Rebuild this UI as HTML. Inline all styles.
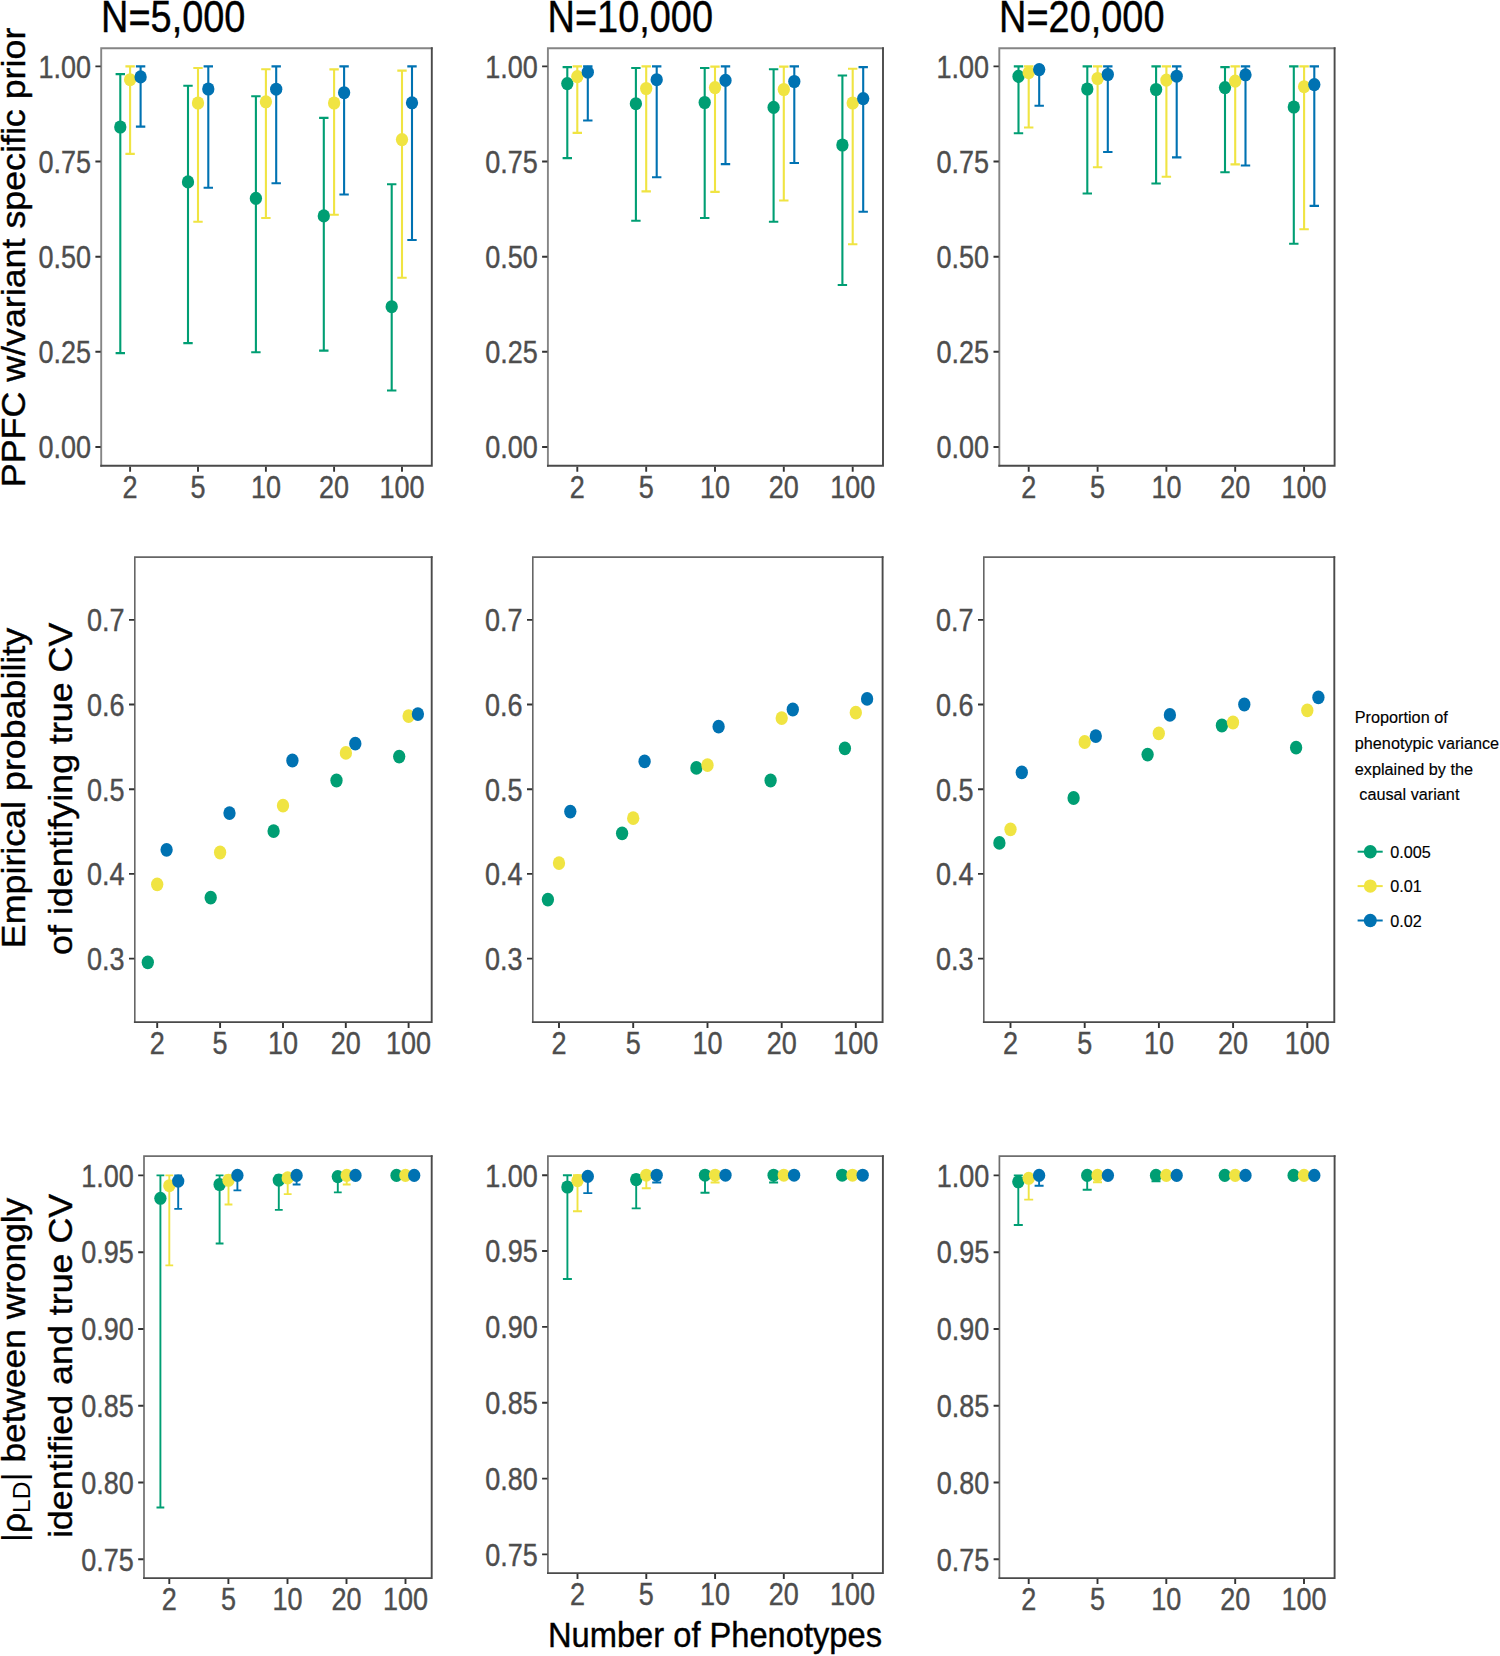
<!DOCTYPE html><html><head><meta charset="utf-8"><title>Figure</title>
<style>html,body{margin:0;padding:0;background:#fff}svg{display:block}text{font-family:"Liberation Sans",sans-serif}</style></head><body>
<svg width="1500" height="1656" viewBox="0 0 1500 1656">
<rect width="1500" height="1656" fill="#fff"/>
<path d="M115.6 74.1H125.0M120.3 74.1V353.1M115.6 353.1H125.0" stroke="#009E73" stroke-width="2.1" fill="none"/>
<path d="M125.4 66.4H134.8M130.1 66.4V153.9M125.4 153.9H134.8" stroke="#F0E442" stroke-width="2.1" fill="none"/>
<path d="M135.9 66.4H145.3M140.6 66.4V126.6M135.9 126.6H145.3" stroke="#0072B2" stroke-width="2.1" fill="none"/>
<path d="M183.3 85.7H192.7M188.0 85.7V343.1M183.3 343.1H192.7" stroke="#009E73" stroke-width="2.1" fill="none"/>
<path d="M193.3 68.0H202.7M198.0 68.0V221.8M193.3 221.8H202.7" stroke="#F0E442" stroke-width="2.1" fill="none"/>
<path d="M203.6 66.4H213.0M208.3 66.4V187.7M203.6 187.7H213.0" stroke="#0072B2" stroke-width="2.1" fill="none"/>
<path d="M251.2 96.2H260.6M255.9 96.2V352.2M251.2 352.2H260.6" stroke="#009E73" stroke-width="2.1" fill="none"/>
<path d="M261.2 69.2H270.6M265.9 69.2V218.0M261.2 218.0H270.6" stroke="#F0E442" stroke-width="2.1" fill="none"/>
<path d="M271.5 66.4H280.9M276.2 66.4V183.3M271.5 183.3H280.9" stroke="#0072B2" stroke-width="2.1" fill="none"/>
<path d="M319.1 117.9H328.5M323.8 117.9V350.6M319.1 350.6H328.5" stroke="#009E73" stroke-width="2.1" fill="none"/>
<path d="M329.4 69.4H338.8M334.1 69.4V214.8M329.4 214.8H338.8" stroke="#F0E442" stroke-width="2.1" fill="none"/>
<path d="M339.4 66.4H348.8M344.1 66.4V194.5M339.4 194.5H348.8" stroke="#0072B2" stroke-width="2.1" fill="none"/>
<path d="M387.0 184.2H396.4M391.7 184.2V390.5M387.0 390.5H396.4" stroke="#009E73" stroke-width="2.1" fill="none"/>
<path d="M397.3 70.6H406.7M402.0 70.6V277.8M397.3 277.8H406.7" stroke="#F0E442" stroke-width="2.1" fill="none"/>
<path d="M407.3 66.4H416.7M412.0 66.4V240.0M407.3 240.0H416.7" stroke="#0072B2" stroke-width="2.1" fill="none"/>
<ellipse cx="120.3" cy="127.0" rx="6.15" ry="6.55" fill="#009E73"/>
<ellipse cx="130.1" cy="79.7" rx="6.15" ry="6.55" fill="#F0E442"/>
<ellipse cx="140.6" cy="76.9" rx="6.15" ry="6.55" fill="#0072B2"/>
<ellipse cx="188.0" cy="181.9" rx="6.15" ry="6.55" fill="#009E73"/>
<ellipse cx="198.0" cy="103.0" rx="6.15" ry="6.55" fill="#F0E442"/>
<ellipse cx="208.3" cy="89.0" rx="6.15" ry="6.55" fill="#0072B2"/>
<ellipse cx="255.9" cy="198.4" rx="6.15" ry="6.55" fill="#009E73"/>
<ellipse cx="265.9" cy="101.8" rx="6.15" ry="6.55" fill="#F0E442"/>
<ellipse cx="276.2" cy="89.2" rx="6.15" ry="6.55" fill="#0072B2"/>
<ellipse cx="323.8" cy="215.9" rx="6.15" ry="6.55" fill="#009E73"/>
<ellipse cx="334.1" cy="103.0" rx="6.15" ry="6.55" fill="#F0E442"/>
<ellipse cx="344.1" cy="92.7" rx="6.15" ry="6.55" fill="#0072B2"/>
<ellipse cx="391.7" cy="306.7" rx="6.15" ry="6.55" fill="#009E73"/>
<ellipse cx="402.0" cy="139.6" rx="6.15" ry="6.55" fill="#F0E442"/>
<ellipse cx="412.0" cy="102.8" rx="6.15" ry="6.55" fill="#0072B2"/>
<path d="M562.6 67.1H572.0M567.3 67.1V158.1M562.6 158.1H572.0" stroke="#009E73" stroke-width="2.1" fill="none"/>
<path d="M572.6 66.4H582.0M577.3 66.4V132.9M572.6 132.9H582.0" stroke="#F0E442" stroke-width="2.1" fill="none"/>
<path d="M583.1 66.4H592.5M587.8 66.4V120.5M583.1 120.5H592.5" stroke="#0072B2" stroke-width="2.1" fill="none"/>
<path d="M631.2 68.0H640.6M635.9 68.0V220.8M631.2 220.8H640.6" stroke="#009E73" stroke-width="2.1" fill="none"/>
<path d="M641.5 66.4H650.9M646.2 66.4V191.4M641.5 191.4H650.9" stroke="#F0E442" stroke-width="2.1" fill="none"/>
<path d="M652.0 66.4H661.4M656.7 66.4V177.2M652.0 177.2H661.4" stroke="#0072B2" stroke-width="2.1" fill="none"/>
<path d="M700.0 68.0H709.4M704.7 68.0V218.0M700.0 218.0H709.4" stroke="#009E73" stroke-width="2.1" fill="none"/>
<path d="M710.3 66.6H719.7M715.0 66.6V191.9M710.3 191.9H719.7" stroke="#F0E442" stroke-width="2.1" fill="none"/>
<path d="M720.8 66.4H730.2M725.5 66.4V164.1M720.8 164.1H730.2" stroke="#0072B2" stroke-width="2.1" fill="none"/>
<path d="M768.9 69.2H778.3M773.6 69.2V221.8M768.9 221.8H778.3" stroke="#009E73" stroke-width="2.1" fill="none"/>
<path d="M779.1 66.6H788.5M783.8 66.6V200.5M779.1 200.5H788.5" stroke="#F0E442" stroke-width="2.1" fill="none"/>
<path d="M789.6 66.4H799.0M794.3 66.4V163.0M789.6 163.0H799.0" stroke="#0072B2" stroke-width="2.1" fill="none"/>
<path d="M837.7 75.5H847.1M842.4 75.5V285.0M837.7 285.0H847.1" stroke="#009E73" stroke-width="2.1" fill="none"/>
<path d="M848.0 68.7H857.4M852.7 68.7V244.2M848.0 244.2H857.4" stroke="#F0E442" stroke-width="2.1" fill="none"/>
<path d="M858.5 67.1H867.9M863.2 67.1V211.7M858.5 211.7H867.9" stroke="#0072B2" stroke-width="2.1" fill="none"/>
<ellipse cx="567.3" cy="83.6" rx="6.15" ry="6.55" fill="#009E73"/>
<ellipse cx="577.3" cy="76.6" rx="6.15" ry="6.55" fill="#F0E442"/>
<ellipse cx="587.8" cy="72.2" rx="6.15" ry="6.55" fill="#0072B2"/>
<ellipse cx="635.9" cy="103.7" rx="6.15" ry="6.55" fill="#009E73"/>
<ellipse cx="646.2" cy="88.5" rx="6.15" ry="6.55" fill="#F0E442"/>
<ellipse cx="656.7" cy="79.7" rx="6.15" ry="6.55" fill="#0072B2"/>
<ellipse cx="704.7" cy="102.5" rx="6.15" ry="6.55" fill="#009E73"/>
<ellipse cx="715.0" cy="87.6" rx="6.15" ry="6.55" fill="#F0E442"/>
<ellipse cx="725.5" cy="80.4" rx="6.15" ry="6.55" fill="#0072B2"/>
<ellipse cx="773.6" cy="107.4" rx="6.15" ry="6.55" fill="#009E73"/>
<ellipse cx="783.8" cy="89.5" rx="6.15" ry="6.55" fill="#F0E442"/>
<ellipse cx="794.3" cy="81.5" rx="6.15" ry="6.55" fill="#0072B2"/>
<ellipse cx="842.4" cy="145.0" rx="6.15" ry="6.55" fill="#009E73"/>
<ellipse cx="852.7" cy="103.0" rx="6.15" ry="6.55" fill="#F0E442"/>
<ellipse cx="863.2" cy="98.6" rx="6.15" ry="6.55" fill="#0072B2"/>
<path d="M1013.8 66.4H1023.2M1018.5 66.4V133.3M1013.8 133.3H1023.2" stroke="#009E73" stroke-width="2.1" fill="none"/>
<path d="M1024.0 66.4H1033.4M1028.7 66.4V127.5M1024.0 127.5H1033.4" stroke="#F0E442" stroke-width="2.1" fill="none"/>
<path d="M1034.5 66.4H1043.9M1039.2 66.4V105.8M1034.5 105.8H1043.9" stroke="#0072B2" stroke-width="2.1" fill="none"/>
<path d="M1082.6 66.4H1092.0M1087.3 66.4V193.5M1082.6 193.5H1092.0" stroke="#009E73" stroke-width="2.1" fill="none"/>
<path d="M1092.9 66.4H1102.3M1097.6 66.4V167.2M1092.9 167.2H1102.3" stroke="#F0E442" stroke-width="2.1" fill="none"/>
<path d="M1103.1 66.4H1112.5M1107.8 66.4V152.0M1103.1 152.0H1112.5" stroke="#0072B2" stroke-width="2.1" fill="none"/>
<path d="M1151.4 66.4H1160.8M1156.1 66.4V183.5M1151.4 183.5H1160.8" stroke="#009E73" stroke-width="2.1" fill="none"/>
<path d="M1161.7 66.4H1171.1M1166.4 66.4V176.7M1161.7 176.7H1171.1" stroke="#F0E442" stroke-width="2.1" fill="none"/>
<path d="M1172.0 66.4H1181.4M1176.7 66.4V157.4M1172.0 157.4H1181.4" stroke="#0072B2" stroke-width="2.1" fill="none"/>
<path d="M1220.3 67.1H1229.7M1225.0 67.1V172.3M1220.3 172.3H1229.7" stroke="#009E73" stroke-width="2.1" fill="none"/>
<path d="M1230.5 66.4H1239.9M1235.2 66.4V164.4M1230.5 164.4H1239.9" stroke="#F0E442" stroke-width="2.1" fill="none"/>
<path d="M1240.8 66.4H1250.2M1245.5 66.4V165.5M1240.8 165.5H1250.2" stroke="#0072B2" stroke-width="2.1" fill="none"/>
<path d="M1289.1 66.4H1298.5M1293.8 66.4V243.7M1289.1 243.7H1298.5" stroke="#009E73" stroke-width="2.1" fill="none"/>
<path d="M1299.4 66.4H1308.8M1304.1 66.4V229.2M1299.4 229.2H1308.8" stroke="#F0E442" stroke-width="2.1" fill="none"/>
<path d="M1309.6 66.4H1319.0M1314.3 66.4V205.9M1309.6 205.9H1319.0" stroke="#0072B2" stroke-width="2.1" fill="none"/>
<ellipse cx="1018.5" cy="76.4" rx="6.15" ry="6.55" fill="#009E73"/>
<ellipse cx="1028.7" cy="72.7" rx="6.15" ry="6.55" fill="#F0E442"/>
<ellipse cx="1039.2" cy="69.6" rx="6.15" ry="6.55" fill="#0072B2"/>
<ellipse cx="1087.3" cy="89.0" rx="6.15" ry="6.55" fill="#009E73"/>
<ellipse cx="1097.6" cy="78.5" rx="6.15" ry="6.55" fill="#F0E442"/>
<ellipse cx="1107.8" cy="74.5" rx="6.15" ry="6.55" fill="#0072B2"/>
<ellipse cx="1156.1" cy="89.5" rx="6.15" ry="6.55" fill="#009E73"/>
<ellipse cx="1166.4" cy="80.1" rx="6.15" ry="6.55" fill="#F0E442"/>
<ellipse cx="1176.7" cy="76.2" rx="6.15" ry="6.55" fill="#0072B2"/>
<ellipse cx="1225.0" cy="87.6" rx="6.15" ry="6.55" fill="#009E73"/>
<ellipse cx="1235.2" cy="81.1" rx="6.15" ry="6.55" fill="#F0E442"/>
<ellipse cx="1245.5" cy="74.8" rx="6.15" ry="6.55" fill="#0072B2"/>
<ellipse cx="1293.8" cy="107.0" rx="6.15" ry="6.55" fill="#009E73"/>
<ellipse cx="1304.1" cy="86.7" rx="6.15" ry="6.55" fill="#F0E442"/>
<ellipse cx="1314.3" cy="84.6" rx="6.15" ry="6.55" fill="#0072B2"/>
<path d="M101.2 466.7V48.2H432.7" fill="none" stroke="#858585" stroke-width="1.9"/>
<path d="M100.3 465.8H431.8V47.3" fill="none" stroke="#4a4a4a" stroke-width="1.9"/>
<path d="M95.4 66.4H100.7M95.4 161.5H100.7M95.4 256.7H100.7M95.4 351.8H100.7M95.4 447.0H100.7M130.1 466.7V471.8M198.0 466.7V471.8M265.9 466.7V471.8M334.1 466.7V471.8M402.0 466.7V471.8" stroke="#333" stroke-width="1.9" fill="none"/>
<text transform="translate(91.00,77.70) scale(0.8620,1.0000)" font-size="31.3" text-anchor="end" fill="#4d4d4d" stroke="#4d4d4d" stroke-width="0.4">1.00</text>
<text transform="translate(91.00,172.80) scale(0.8620,1.0000)" font-size="31.3" text-anchor="end" fill="#4d4d4d" stroke="#4d4d4d" stroke-width="0.4">0.75</text>
<text transform="translate(91.00,268.00) scale(0.8620,1.0000)" font-size="31.3" text-anchor="end" fill="#4d4d4d" stroke="#4d4d4d" stroke-width="0.4">0.50</text>
<text transform="translate(91.00,363.10) scale(0.8620,1.0000)" font-size="31.3" text-anchor="end" fill="#4d4d4d" stroke="#4d4d4d" stroke-width="0.4">0.25</text>
<text transform="translate(91.00,458.30) scale(0.8620,1.0000)" font-size="31.3" text-anchor="end" fill="#4d4d4d" stroke="#4d4d4d" stroke-width="0.4">0.00</text>
<text transform="translate(130.10,497.50) scale(0.8620,1.0000)" font-size="31.3" text-anchor="middle" fill="#4d4d4d" stroke="#4d4d4d" stroke-width="0.4">2</text>
<text transform="translate(198.00,497.50) scale(0.8620,1.0000)" font-size="31.3" text-anchor="middle" fill="#4d4d4d" stroke="#4d4d4d" stroke-width="0.4">5</text>
<text transform="translate(265.90,497.50) scale(0.8620,1.0000)" font-size="31.3" text-anchor="middle" fill="#4d4d4d" stroke="#4d4d4d" stroke-width="0.4">10</text>
<text transform="translate(334.10,497.50) scale(0.8620,1.0000)" font-size="31.3" text-anchor="middle" fill="#4d4d4d" stroke="#4d4d4d" stroke-width="0.4">20</text>
<text transform="translate(402.00,497.50) scale(0.8620,1.0000)" font-size="31.3" text-anchor="middle" fill="#4d4d4d" stroke="#4d4d4d" stroke-width="0.4">100</text>
<path d="M547.9 466.7V48.2H883.9" fill="none" stroke="#858585" stroke-width="1.9"/>
<path d="M547.0 465.8H883.0V47.3" fill="none" stroke="#4a4a4a" stroke-width="1.9"/>
<path d="M542.1 66.4H547.4M542.1 161.5H547.4M542.1 256.7H547.4M542.1 351.8H547.4M542.1 447.0H547.4M577.3 466.7V471.8M646.2 466.7V471.8M715.0 466.7V471.8M783.8 466.7V471.8M852.7 466.7V471.8" stroke="#333" stroke-width="1.9" fill="none"/>
<text transform="translate(537.70,77.70) scale(0.8620,1.0000)" font-size="31.3" text-anchor="end" fill="#4d4d4d" stroke="#4d4d4d" stroke-width="0.4">1.00</text>
<text transform="translate(537.70,172.80) scale(0.8620,1.0000)" font-size="31.3" text-anchor="end" fill="#4d4d4d" stroke="#4d4d4d" stroke-width="0.4">0.75</text>
<text transform="translate(537.70,268.00) scale(0.8620,1.0000)" font-size="31.3" text-anchor="end" fill="#4d4d4d" stroke="#4d4d4d" stroke-width="0.4">0.50</text>
<text transform="translate(537.70,363.10) scale(0.8620,1.0000)" font-size="31.3" text-anchor="end" fill="#4d4d4d" stroke="#4d4d4d" stroke-width="0.4">0.25</text>
<text transform="translate(537.70,458.30) scale(0.8620,1.0000)" font-size="31.3" text-anchor="end" fill="#4d4d4d" stroke="#4d4d4d" stroke-width="0.4">0.00</text>
<text transform="translate(577.30,497.50) scale(0.8620,1.0000)" font-size="31.3" text-anchor="middle" fill="#4d4d4d" stroke="#4d4d4d" stroke-width="0.4">2</text>
<text transform="translate(646.20,497.50) scale(0.8620,1.0000)" font-size="31.3" text-anchor="middle" fill="#4d4d4d" stroke="#4d4d4d" stroke-width="0.4">5</text>
<text transform="translate(715.00,497.50) scale(0.8620,1.0000)" font-size="31.3" text-anchor="middle" fill="#4d4d4d" stroke="#4d4d4d" stroke-width="0.4">10</text>
<text transform="translate(783.80,497.50) scale(0.8620,1.0000)" font-size="31.3" text-anchor="middle" fill="#4d4d4d" stroke="#4d4d4d" stroke-width="0.4">20</text>
<text transform="translate(852.70,497.50) scale(0.8620,1.0000)" font-size="31.3" text-anchor="middle" fill="#4d4d4d" stroke="#4d4d4d" stroke-width="0.4">100</text>
<path d="M999.3 466.7V48.2H1335.5" fill="none" stroke="#858585" stroke-width="1.9"/>
<path d="M998.4 465.8H1334.6V47.3" fill="none" stroke="#4a4a4a" stroke-width="1.9"/>
<path d="M993.5 66.4H998.8M993.5 161.5H998.8M993.5 256.7H998.8M993.5 351.8H998.8M993.5 447.0H998.8M1028.7 466.7V471.8M1097.6 466.7V471.8M1166.4 466.7V471.8M1235.2 466.7V471.8M1304.1 466.7V471.8" stroke="#333" stroke-width="1.9" fill="none"/>
<text transform="translate(989.10,77.70) scale(0.8620,1.0000)" font-size="31.3" text-anchor="end" fill="#4d4d4d" stroke="#4d4d4d" stroke-width="0.4">1.00</text>
<text transform="translate(989.10,172.80) scale(0.8620,1.0000)" font-size="31.3" text-anchor="end" fill="#4d4d4d" stroke="#4d4d4d" stroke-width="0.4">0.75</text>
<text transform="translate(989.10,268.00) scale(0.8620,1.0000)" font-size="31.3" text-anchor="end" fill="#4d4d4d" stroke="#4d4d4d" stroke-width="0.4">0.50</text>
<text transform="translate(989.10,363.10) scale(0.8620,1.0000)" font-size="31.3" text-anchor="end" fill="#4d4d4d" stroke="#4d4d4d" stroke-width="0.4">0.25</text>
<text transform="translate(989.10,458.30) scale(0.8620,1.0000)" font-size="31.3" text-anchor="end" fill="#4d4d4d" stroke="#4d4d4d" stroke-width="0.4">0.00</text>
<text transform="translate(1028.70,497.50) scale(0.8620,1.0000)" font-size="31.3" text-anchor="middle" fill="#4d4d4d" stroke="#4d4d4d" stroke-width="0.4">2</text>
<text transform="translate(1097.60,497.50) scale(0.8620,1.0000)" font-size="31.3" text-anchor="middle" fill="#4d4d4d" stroke="#4d4d4d" stroke-width="0.4">5</text>
<text transform="translate(1166.40,497.50) scale(0.8620,1.0000)" font-size="31.3" text-anchor="middle" fill="#4d4d4d" stroke="#4d4d4d" stroke-width="0.4">10</text>
<text transform="translate(1235.20,497.50) scale(0.8620,1.0000)" font-size="31.3" text-anchor="middle" fill="#4d4d4d" stroke="#4d4d4d" stroke-width="0.4">20</text>
<text transform="translate(1304.10,497.50) scale(0.8620,1.0000)" font-size="31.3" text-anchor="middle" fill="#4d4d4d" stroke="#4d4d4d" stroke-width="0.4">100</text>
<text transform="translate(101.00,31.60) scale(0.8430,1.0000)" font-size="45" text-anchor="start" fill="#000" stroke="#000" stroke-width="0.4">N=5,000</text>
<text transform="translate(547.50,31.60) scale(0.8430,1.0000)" font-size="45" text-anchor="start" fill="#000" stroke="#000" stroke-width="0.4">N=10,000</text>
<text transform="translate(999.00,31.60) scale(0.8430,1.0000)" font-size="45" text-anchor="start" fill="#000" stroke="#000" stroke-width="0.4">N=20,000</text>
<ellipse cx="147.8" cy="962.3" rx="6.15" ry="6.9" fill="#009E73"/>
<ellipse cx="157.2" cy="884.3" rx="6.15" ry="6.9" fill="#F0E442"/>
<ellipse cx="166.6" cy="849.8" rx="6.15" ry="6.9" fill="#0072B2"/>
<ellipse cx="210.7" cy="897.7" rx="6.15" ry="6.9" fill="#009E73"/>
<ellipse cx="220.1" cy="852.5" rx="6.15" ry="6.9" fill="#F0E442"/>
<ellipse cx="229.5" cy="813.1" rx="6.15" ry="6.9" fill="#0072B2"/>
<ellipse cx="273.6" cy="831.1" rx="6.15" ry="6.9" fill="#009E73"/>
<ellipse cx="283.0" cy="805.7" rx="6.15" ry="6.9" fill="#F0E442"/>
<ellipse cx="292.4" cy="760.5" rx="6.15" ry="6.9" fill="#0072B2"/>
<ellipse cx="336.5" cy="780.5" rx="6.15" ry="6.9" fill="#009E73"/>
<ellipse cx="345.9" cy="752.9" rx="6.15" ry="6.9" fill="#F0E442"/>
<ellipse cx="355.3" cy="743.7" rx="6.15" ry="6.9" fill="#0072B2"/>
<ellipse cx="399.2" cy="756.6" rx="6.15" ry="6.9" fill="#009E73"/>
<ellipse cx="408.6" cy="716.1" rx="6.15" ry="6.9" fill="#F0E442"/>
<ellipse cx="417.9" cy="714.1" rx="6.15" ry="6.9" fill="#0072B2"/>
<ellipse cx="547.9" cy="899.6" rx="6.15" ry="6.9" fill="#009E73"/>
<ellipse cx="559.0" cy="863.1" rx="6.15" ry="6.9" fill="#F0E442"/>
<ellipse cx="570.3" cy="811.6" rx="6.15" ry="6.9" fill="#0072B2"/>
<ellipse cx="622.1" cy="833.3" rx="6.15" ry="6.9" fill="#009E73"/>
<ellipse cx="633.2" cy="818.2" rx="6.15" ry="6.9" fill="#F0E442"/>
<ellipse cx="644.6" cy="761.3" rx="6.15" ry="6.9" fill="#0072B2"/>
<ellipse cx="696.4" cy="767.9" rx="6.15" ry="6.9" fill="#009E73"/>
<ellipse cx="707.5" cy="765.2" rx="6.15" ry="6.9" fill="#F0E442"/>
<ellipse cx="718.6" cy="726.7" rx="6.15" ry="6.9" fill="#0072B2"/>
<ellipse cx="770.6" cy="780.5" rx="6.15" ry="6.9" fill="#009E73"/>
<ellipse cx="781.7" cy="718.1" rx="6.15" ry="6.9" fill="#F0E442"/>
<ellipse cx="792.8" cy="709.5" rx="6.15" ry="6.9" fill="#0072B2"/>
<ellipse cx="844.9" cy="748.4" rx="6.15" ry="6.9" fill="#009E73"/>
<ellipse cx="855.8" cy="712.7" rx="6.15" ry="6.9" fill="#F0E442"/>
<ellipse cx="867.1" cy="698.9" rx="6.15" ry="6.9" fill="#0072B2"/>
<ellipse cx="999.4" cy="842.9" rx="6.15" ry="6.9" fill="#009E73"/>
<ellipse cx="1010.5" cy="829.3" rx="6.15" ry="6.9" fill="#F0E442"/>
<ellipse cx="1021.8" cy="772.4" rx="6.15" ry="6.9" fill="#0072B2"/>
<ellipse cx="1073.6" cy="798.0" rx="6.15" ry="6.9" fill="#009E73"/>
<ellipse cx="1084.7" cy="742.0" rx="6.15" ry="6.9" fill="#F0E442"/>
<ellipse cx="1095.8" cy="736.1" rx="6.15" ry="6.9" fill="#0072B2"/>
<ellipse cx="1147.6" cy="754.6" rx="6.15" ry="6.9" fill="#009E73"/>
<ellipse cx="1158.8" cy="733.4" rx="6.15" ry="6.9" fill="#F0E442"/>
<ellipse cx="1169.9" cy="714.9" rx="6.15" ry="6.9" fill="#0072B2"/>
<ellipse cx="1221.9" cy="725.5" rx="6.15" ry="6.9" fill="#009E73"/>
<ellipse cx="1233.0" cy="722.5" rx="6.15" ry="6.9" fill="#F0E442"/>
<ellipse cx="1244.3" cy="704.5" rx="6.15" ry="6.9" fill="#0072B2"/>
<ellipse cx="1296.1" cy="747.7" rx="6.15" ry="6.9" fill="#009E73"/>
<ellipse cx="1307.3" cy="710.4" rx="6.15" ry="6.9" fill="#F0E442"/>
<ellipse cx="1318.4" cy="697.4" rx="6.15" ry="6.9" fill="#0072B2"/>
<path d="M134.8 1023.0V557.1H432.6" fill="none" stroke="#666" stroke-width="1.6"/>
<path d="M133.9 1022.1H431.7V556.2" fill="none" stroke="#4a4a4a" stroke-width="1.9"/>
<path d="M129.0 619.9H134.3M129.0 704.5H134.3M129.0 789.2H134.3M129.0 873.9H134.3M129.0 958.6H134.3M157.2 1023.0V1028.1M220.1 1023.0V1028.1M283.0 1023.0V1028.1M345.8 1023.0V1028.1M408.6 1023.0V1028.1" stroke="#333" stroke-width="1.9" fill="none"/>
<text transform="translate(124.60,631.20) scale(0.8620,1.0000)" font-size="31.3" text-anchor="end" fill="#4d4d4d" stroke="#4d4d4d" stroke-width="0.4">0.7</text>
<text transform="translate(124.60,715.80) scale(0.8620,1.0000)" font-size="31.3" text-anchor="end" fill="#4d4d4d" stroke="#4d4d4d" stroke-width="0.4">0.6</text>
<text transform="translate(124.60,800.50) scale(0.8620,1.0000)" font-size="31.3" text-anchor="end" fill="#4d4d4d" stroke="#4d4d4d" stroke-width="0.4">0.5</text>
<text transform="translate(124.60,885.20) scale(0.8620,1.0000)" font-size="31.3" text-anchor="end" fill="#4d4d4d" stroke="#4d4d4d" stroke-width="0.4">0.4</text>
<text transform="translate(124.60,969.90) scale(0.8620,1.0000)" font-size="31.3" text-anchor="end" fill="#4d4d4d" stroke="#4d4d4d" stroke-width="0.4">0.3</text>
<text transform="translate(157.20,1053.80) scale(0.8620,1.0000)" font-size="31.3" text-anchor="middle" fill="#4d4d4d" stroke="#4d4d4d" stroke-width="0.4">2</text>
<text transform="translate(220.10,1053.80) scale(0.8620,1.0000)" font-size="31.3" text-anchor="middle" fill="#4d4d4d" stroke="#4d4d4d" stroke-width="0.4">5</text>
<text transform="translate(283.00,1053.80) scale(0.8620,1.0000)" font-size="31.3" text-anchor="middle" fill="#4d4d4d" stroke="#4d4d4d" stroke-width="0.4">10</text>
<text transform="translate(345.80,1053.80) scale(0.8620,1.0000)" font-size="31.3" text-anchor="middle" fill="#4d4d4d" stroke="#4d4d4d" stroke-width="0.4">20</text>
<text transform="translate(408.60,1053.80) scale(0.8620,1.0000)" font-size="31.3" text-anchor="middle" fill="#4d4d4d" stroke="#4d4d4d" stroke-width="0.4">100</text>
<path d="M532.8 1023.0V557.1H883.5" fill="none" stroke="#666" stroke-width="1.6"/>
<path d="M531.9 1022.1H882.6V556.2" fill="none" stroke="#4a4a4a" stroke-width="1.9"/>
<path d="M527.0 619.9H532.3M527.0 704.5H532.3M527.0 789.2H532.3M527.0 873.9H532.3M527.0 958.6H532.3M559.0 1023.0V1028.1M633.2 1023.0V1028.1M707.5 1023.0V1028.1M781.7 1023.0V1028.1M855.8 1023.0V1028.1" stroke="#333" stroke-width="1.9" fill="none"/>
<text transform="translate(522.60,631.20) scale(0.8620,1.0000)" font-size="31.3" text-anchor="end" fill="#4d4d4d" stroke="#4d4d4d" stroke-width="0.4">0.7</text>
<text transform="translate(522.60,715.80) scale(0.8620,1.0000)" font-size="31.3" text-anchor="end" fill="#4d4d4d" stroke="#4d4d4d" stroke-width="0.4">0.6</text>
<text transform="translate(522.60,800.50) scale(0.8620,1.0000)" font-size="31.3" text-anchor="end" fill="#4d4d4d" stroke="#4d4d4d" stroke-width="0.4">0.5</text>
<text transform="translate(522.60,885.20) scale(0.8620,1.0000)" font-size="31.3" text-anchor="end" fill="#4d4d4d" stroke="#4d4d4d" stroke-width="0.4">0.4</text>
<text transform="translate(522.60,969.90) scale(0.8620,1.0000)" font-size="31.3" text-anchor="end" fill="#4d4d4d" stroke="#4d4d4d" stroke-width="0.4">0.3</text>
<text transform="translate(559.00,1053.80) scale(0.8620,1.0000)" font-size="31.3" text-anchor="middle" fill="#4d4d4d" stroke="#4d4d4d" stroke-width="0.4">2</text>
<text transform="translate(633.20,1053.80) scale(0.8620,1.0000)" font-size="31.3" text-anchor="middle" fill="#4d4d4d" stroke="#4d4d4d" stroke-width="0.4">5</text>
<text transform="translate(707.50,1053.80) scale(0.8620,1.0000)" font-size="31.3" text-anchor="middle" fill="#4d4d4d" stroke="#4d4d4d" stroke-width="0.4">10</text>
<text transform="translate(781.70,1053.80) scale(0.8620,1.0000)" font-size="31.3" text-anchor="middle" fill="#4d4d4d" stroke="#4d4d4d" stroke-width="0.4">20</text>
<text transform="translate(855.80,1053.80) scale(0.8620,1.0000)" font-size="31.3" text-anchor="middle" fill="#4d4d4d" stroke="#4d4d4d" stroke-width="0.4">100</text>
<path d="M983.8 1023.0V557.1H1335.2" fill="none" stroke="#666" stroke-width="1.6"/>
<path d="M982.9 1022.1H1334.3V556.2" fill="none" stroke="#4a4a4a" stroke-width="1.9"/>
<path d="M978.0 619.9H983.3M978.0 704.5H983.3M978.0 789.2H983.3M978.0 873.9H983.3M978.0 958.6H983.3M1010.5 1023.0V1028.1M1084.7 1023.0V1028.1M1158.9 1023.0V1028.1M1233.1 1023.0V1028.1M1307.3 1023.0V1028.1" stroke="#333" stroke-width="1.9" fill="none"/>
<text transform="translate(973.60,631.20) scale(0.8620,1.0000)" font-size="31.3" text-anchor="end" fill="#4d4d4d" stroke="#4d4d4d" stroke-width="0.4">0.7</text>
<text transform="translate(973.60,715.80) scale(0.8620,1.0000)" font-size="31.3" text-anchor="end" fill="#4d4d4d" stroke="#4d4d4d" stroke-width="0.4">0.6</text>
<text transform="translate(973.60,800.50) scale(0.8620,1.0000)" font-size="31.3" text-anchor="end" fill="#4d4d4d" stroke="#4d4d4d" stroke-width="0.4">0.5</text>
<text transform="translate(973.60,885.20) scale(0.8620,1.0000)" font-size="31.3" text-anchor="end" fill="#4d4d4d" stroke="#4d4d4d" stroke-width="0.4">0.4</text>
<text transform="translate(973.60,969.90) scale(0.8620,1.0000)" font-size="31.3" text-anchor="end" fill="#4d4d4d" stroke="#4d4d4d" stroke-width="0.4">0.3</text>
<text transform="translate(1010.50,1053.80) scale(0.8620,1.0000)" font-size="31.3" text-anchor="middle" fill="#4d4d4d" stroke="#4d4d4d" stroke-width="0.4">2</text>
<text transform="translate(1084.70,1053.80) scale(0.8620,1.0000)" font-size="31.3" text-anchor="middle" fill="#4d4d4d" stroke="#4d4d4d" stroke-width="0.4">5</text>
<text transform="translate(1158.90,1053.80) scale(0.8620,1.0000)" font-size="31.3" text-anchor="middle" fill="#4d4d4d" stroke="#4d4d4d" stroke-width="0.4">10</text>
<text transform="translate(1233.10,1053.80) scale(0.8620,1.0000)" font-size="31.3" text-anchor="middle" fill="#4d4d4d" stroke="#4d4d4d" stroke-width="0.4">20</text>
<text transform="translate(1307.30,1053.80) scale(0.8620,1.0000)" font-size="31.3" text-anchor="middle" fill="#4d4d4d" stroke="#4d4d4d" stroke-width="0.4">100</text>
<path d="M156.5 1175.4H164.3M160.4 1175.4V1507.5M156.5 1507.5H164.3" stroke="#009E73" stroke-width="1.9" fill="none"/>
<path d="M165.4 1175.4H173.2M169.3 1175.4V1265.4M165.4 1265.4H173.2" stroke="#F0E442" stroke-width="1.9" fill="none"/>
<path d="M174.3 1175.4H182.1M178.2 1175.4V1208.9M174.3 1208.9H182.1" stroke="#0072B2" stroke-width="1.9" fill="none"/>
<path d="M215.7 1175.4H223.5M219.6 1175.4V1243.5M215.7 1243.5H223.5" stroke="#009E73" stroke-width="1.9" fill="none"/>
<path d="M224.6 1175.4H232.4M228.5 1175.4V1204.5M224.6 1204.5H232.4" stroke="#F0E442" stroke-width="1.9" fill="none"/>
<path d="M233.5 1175.4H241.3M237.4 1175.4V1190.4M233.5 1190.4H241.3" stroke="#0072B2" stroke-width="1.9" fill="none"/>
<path d="M274.9 1175.4H282.7M278.8 1175.4V1209.9M274.9 1209.9H282.7" stroke="#009E73" stroke-width="1.9" fill="none"/>
<path d="M283.8 1175.4H291.6M287.7 1175.4V1194.1M283.8 1194.1H291.6" stroke="#F0E442" stroke-width="1.9" fill="none"/>
<path d="M292.7 1175.4H300.5M296.6 1175.4V1184.5M292.7 1184.5H300.5" stroke="#0072B2" stroke-width="1.9" fill="none"/>
<path d="M333.9 1175.4H341.7M337.8 1175.4V1192.4M333.9 1192.4H341.7" stroke="#009E73" stroke-width="1.9" fill="none"/>
<path d="M342.8 1175.4H350.6M346.7 1175.4V1184.5M342.8 1184.5H350.6" stroke="#F0E442" stroke-width="1.9" fill="none"/>
<path d="M351.6 1175.4H359.4M355.5 1175.4V1175.4M351.6 1175.4H359.4" stroke="#0072B2" stroke-width="1.9" fill="none"/>
<path d="M392.6 1175.4H400.4M396.5 1175.4V1175.4M392.6 1175.4H400.4" stroke="#009E73" stroke-width="1.9" fill="none"/>
<path d="M401.5 1175.4H409.3M405.4 1175.4V1175.4M401.5 1175.4H409.3" stroke="#F0E442" stroke-width="1.9" fill="none"/>
<path d="M410.3 1175.4H418.1M414.2 1175.4V1175.4M410.3 1175.4H418.1" stroke="#0072B2" stroke-width="1.9" fill="none"/>
<ellipse cx="160.4" cy="1198.3" rx="6.15" ry="6.55" fill="#009E73"/>
<ellipse cx="169.3" cy="1185.7" rx="6.15" ry="6.55" fill="#F0E442"/>
<ellipse cx="178.2" cy="1181.1" rx="6.15" ry="6.55" fill="#0072B2"/>
<ellipse cx="219.6" cy="1184.5" rx="6.15" ry="6.55" fill="#009E73"/>
<ellipse cx="228.5" cy="1180.3" rx="6.15" ry="6.55" fill="#F0E442"/>
<ellipse cx="237.4" cy="1175.4" rx="6.15" ry="6.55" fill="#0072B2"/>
<ellipse cx="278.8" cy="1180.1" rx="6.15" ry="6.55" fill="#009E73"/>
<ellipse cx="287.7" cy="1177.9" rx="6.15" ry="6.55" fill="#F0E442"/>
<ellipse cx="296.6" cy="1175.4" rx="6.15" ry="6.55" fill="#0072B2"/>
<ellipse cx="337.8" cy="1176.6" rx="6.15" ry="6.55" fill="#009E73"/>
<ellipse cx="346.7" cy="1175.4" rx="6.15" ry="6.55" fill="#F0E442"/>
<ellipse cx="355.5" cy="1175.4" rx="6.15" ry="6.55" fill="#0072B2"/>
<ellipse cx="396.5" cy="1175.4" rx="6.15" ry="6.55" fill="#009E73"/>
<ellipse cx="405.4" cy="1175.4" rx="6.15" ry="6.55" fill="#F0E442"/>
<ellipse cx="414.2" cy="1175.4" rx="6.15" ry="6.55" fill="#0072B2"/>
<path d="M562.9 1175.2H571.9M567.4 1175.2V1279.0M562.9 1279.0H571.9" stroke="#009E73" stroke-width="1.9" fill="none"/>
<path d="M573.0 1175.2H582.0M577.5 1175.2V1211.2M573.0 1211.2H582.0" stroke="#F0E442" stroke-width="1.9" fill="none"/>
<path d="M583.3 1175.2H592.3M587.8 1175.2V1193.1M583.3 1193.1H592.3" stroke="#0072B2" stroke-width="1.9" fill="none"/>
<path d="M631.7 1175.2H640.7M636.2 1175.2V1208.4M631.7 1208.4H640.7" stroke="#009E73" stroke-width="1.9" fill="none"/>
<path d="M641.8 1175.2H650.8M646.3 1175.2V1188.2M641.8 1188.2H650.8" stroke="#F0E442" stroke-width="1.9" fill="none"/>
<path d="M652.2 1175.2H661.2M656.7 1175.2V1182.5M652.2 1182.5H661.2" stroke="#0072B2" stroke-width="1.9" fill="none"/>
<path d="M700.5 1175.2H709.5M705.0 1175.2V1192.7M700.5 1192.7H709.5" stroke="#009E73" stroke-width="1.9" fill="none"/>
<path d="M710.6 1175.2H719.6M715.1 1175.2V1182.5M710.6 1182.5H719.6" stroke="#F0E442" stroke-width="1.9" fill="none"/>
<path d="M721.0 1175.2H730.0M725.5 1175.2V1175.2M721.0 1175.2H730.0" stroke="#0072B2" stroke-width="1.9" fill="none"/>
<path d="M769.1 1175.2H778.1M773.6 1175.2V1182.5M769.1 1182.5H778.1" stroke="#009E73" stroke-width="1.9" fill="none"/>
<path d="M779.3 1175.2H788.3M783.8 1175.2V1175.2M779.3 1175.2H788.3" stroke="#F0E442" stroke-width="1.9" fill="none"/>
<path d="M789.6 1175.2H798.6M794.1 1175.2V1175.2M789.6 1175.2H798.6" stroke="#0072B2" stroke-width="1.9" fill="none"/>
<path d="M837.7 1175.2H846.7M842.2 1175.2V1175.2M837.7 1175.2H846.7" stroke="#009E73" stroke-width="1.9" fill="none"/>
<path d="M848.0 1175.2H857.0M852.5 1175.2V1175.2M848.0 1175.2H857.0" stroke="#F0E442" stroke-width="1.9" fill="none"/>
<path d="M858.2 1175.2H867.2M862.7 1175.2V1175.2M858.2 1175.2H867.2" stroke="#0072B2" stroke-width="1.9" fill="none"/>
<ellipse cx="567.4" cy="1187.0" rx="6.15" ry="6.55" fill="#009E73"/>
<ellipse cx="577.5" cy="1180.6" rx="6.15" ry="6.55" fill="#F0E442"/>
<ellipse cx="587.8" cy="1176.4" rx="6.15" ry="6.55" fill="#0072B2"/>
<ellipse cx="636.2" cy="1179.6" rx="6.15" ry="6.55" fill="#009E73"/>
<ellipse cx="646.3" cy="1175.2" rx="6.15" ry="6.55" fill="#F0E442"/>
<ellipse cx="656.7" cy="1175.2" rx="6.15" ry="6.55" fill="#0072B2"/>
<ellipse cx="705.0" cy="1175.2" rx="6.15" ry="6.55" fill="#009E73"/>
<ellipse cx="715.1" cy="1175.2" rx="6.15" ry="6.55" fill="#F0E442"/>
<ellipse cx="725.5" cy="1175.2" rx="6.15" ry="6.55" fill="#0072B2"/>
<ellipse cx="773.6" cy="1175.2" rx="6.15" ry="6.55" fill="#009E73"/>
<ellipse cx="783.8" cy="1175.2" rx="6.15" ry="6.55" fill="#F0E442"/>
<ellipse cx="794.1" cy="1175.2" rx="6.15" ry="6.55" fill="#0072B2"/>
<ellipse cx="842.2" cy="1175.2" rx="6.15" ry="6.55" fill="#009E73"/>
<ellipse cx="852.5" cy="1175.2" rx="6.15" ry="6.55" fill="#F0E442"/>
<ellipse cx="862.7" cy="1175.2" rx="6.15" ry="6.55" fill="#0072B2"/>
<path d="M1013.8 1175.4H1022.8M1018.3 1175.4V1225.0M1013.8 1225.0H1022.8" stroke="#009E73" stroke-width="1.9" fill="none"/>
<path d="M1024.2 1175.4H1033.2M1028.7 1175.4V1199.6M1024.2 1199.6H1033.2" stroke="#F0E442" stroke-width="1.9" fill="none"/>
<path d="M1034.6 1175.4H1043.6M1039.1 1175.4V1185.7M1034.6 1185.7H1043.6" stroke="#0072B2" stroke-width="1.9" fill="none"/>
<path d="M1082.7 1175.4H1091.7M1087.2 1175.4V1189.7M1082.7 1189.7H1091.7" stroke="#009E73" stroke-width="1.9" fill="none"/>
<path d="M1093.0 1175.4H1102.0M1097.5 1175.4V1182.3M1093.0 1182.3H1102.0" stroke="#F0E442" stroke-width="1.9" fill="none"/>
<path d="M1103.4 1175.4H1112.4M1107.9 1175.4V1175.4M1103.4 1175.4H1112.4" stroke="#0072B2" stroke-width="1.9" fill="none"/>
<path d="M1151.5 1175.4H1160.5M1156.0 1175.4V1181.3M1151.5 1181.3H1160.5" stroke="#009E73" stroke-width="1.9" fill="none"/>
<path d="M1161.8 1175.4H1170.8M1166.3 1175.4V1175.4M1161.8 1175.4H1170.8" stroke="#F0E442" stroke-width="1.9" fill="none"/>
<path d="M1172.2 1175.4H1181.2M1176.7 1175.4V1175.4M1172.2 1175.4H1181.2" stroke="#0072B2" stroke-width="1.9" fill="none"/>
<path d="M1220.3 1175.4H1229.3M1224.8 1175.4V1175.4M1220.3 1175.4H1229.3" stroke="#009E73" stroke-width="1.9" fill="none"/>
<path d="M1230.7 1175.4H1239.7M1235.2 1175.4V1175.4M1230.7 1175.4H1239.7" stroke="#F0E442" stroke-width="1.9" fill="none"/>
<path d="M1241.0 1175.4H1250.0M1245.5 1175.4V1175.4M1241.0 1175.4H1250.0" stroke="#0072B2" stroke-width="1.9" fill="none"/>
<path d="M1289.1 1175.4H1298.1M1293.6 1175.4V1175.4M1289.1 1175.4H1298.1" stroke="#009E73" stroke-width="1.9" fill="none"/>
<path d="M1299.5 1175.4H1308.5M1304.0 1175.4V1175.4M1299.5 1175.4H1308.5" stroke="#F0E442" stroke-width="1.9" fill="none"/>
<path d="M1309.8 1175.4H1318.8M1314.3 1175.4V1175.4M1309.8 1175.4H1318.8" stroke="#0072B2" stroke-width="1.9" fill="none"/>
<ellipse cx="1018.3" cy="1181.8" rx="6.15" ry="6.55" fill="#009E73"/>
<ellipse cx="1028.7" cy="1178.3" rx="6.15" ry="6.55" fill="#F0E442"/>
<ellipse cx="1039.1" cy="1175.4" rx="6.15" ry="6.55" fill="#0072B2"/>
<ellipse cx="1087.2" cy="1175.4" rx="6.15" ry="6.55" fill="#009E73"/>
<ellipse cx="1097.5" cy="1175.4" rx="6.15" ry="6.55" fill="#F0E442"/>
<ellipse cx="1107.9" cy="1175.4" rx="6.15" ry="6.55" fill="#0072B2"/>
<ellipse cx="1156.0" cy="1175.4" rx="6.15" ry="6.55" fill="#009E73"/>
<ellipse cx="1166.3" cy="1175.4" rx="6.15" ry="6.55" fill="#F0E442"/>
<ellipse cx="1176.7" cy="1175.4" rx="6.15" ry="6.55" fill="#0072B2"/>
<ellipse cx="1224.8" cy="1175.4" rx="6.15" ry="6.55" fill="#009E73"/>
<ellipse cx="1235.2" cy="1175.4" rx="6.15" ry="6.55" fill="#F0E442"/>
<ellipse cx="1245.5" cy="1175.4" rx="6.15" ry="6.55" fill="#0072B2"/>
<ellipse cx="1293.6" cy="1175.4" rx="6.15" ry="6.55" fill="#009E73"/>
<ellipse cx="1304.0" cy="1175.4" rx="6.15" ry="6.55" fill="#F0E442"/>
<ellipse cx="1314.3" cy="1175.4" rx="6.15" ry="6.55" fill="#0072B2"/>
<path d="M144.0 1579.0V1156.1H432.6" fill="none" stroke="#6e6e6e" stroke-width="1.7"/>
<path d="M143.1 1578.1H431.7V1155.2" fill="none" stroke="#4a4a4a" stroke-width="1.9"/>
<path d="M138.2 1175.4H143.5M138.2 1252.2H143.5M138.2 1329.0H143.5M138.2 1405.7H143.5M138.2 1482.5H143.5M138.2 1559.3H143.5M169.3 1579.0V1584.1M228.4 1579.0V1584.1M287.5 1579.0V1584.1M346.5 1579.0V1584.1M405.5 1579.0V1584.1" stroke="#333" stroke-width="1.9" fill="none"/>
<text transform="translate(133.80,1186.70) scale(0.8620,1.0000)" font-size="31.3" text-anchor="end" fill="#4d4d4d" stroke="#4d4d4d" stroke-width="0.4">1.00</text>
<text transform="translate(133.80,1263.48) scale(0.8620,1.0000)" font-size="31.3" text-anchor="end" fill="#4d4d4d" stroke="#4d4d4d" stroke-width="0.4">0.95</text>
<text transform="translate(133.80,1340.26) scale(0.8620,1.0000)" font-size="31.3" text-anchor="end" fill="#4d4d4d" stroke="#4d4d4d" stroke-width="0.4">0.90</text>
<text transform="translate(133.80,1417.04) scale(0.8620,1.0000)" font-size="31.3" text-anchor="end" fill="#4d4d4d" stroke="#4d4d4d" stroke-width="0.4">0.85</text>
<text transform="translate(133.80,1493.82) scale(0.8620,1.0000)" font-size="31.3" text-anchor="end" fill="#4d4d4d" stroke="#4d4d4d" stroke-width="0.4">0.80</text>
<text transform="translate(133.80,1570.60) scale(0.8620,1.0000)" font-size="31.3" text-anchor="end" fill="#4d4d4d" stroke="#4d4d4d" stroke-width="0.4">0.75</text>
<text transform="translate(169.30,1609.80) scale(0.8620,1.0000)" font-size="31.3" text-anchor="middle" fill="#4d4d4d" stroke="#4d4d4d" stroke-width="0.4">2</text>
<text transform="translate(228.40,1609.80) scale(0.8620,1.0000)" font-size="31.3" text-anchor="middle" fill="#4d4d4d" stroke="#4d4d4d" stroke-width="0.4">5</text>
<text transform="translate(287.50,1609.80) scale(0.8620,1.0000)" font-size="31.3" text-anchor="middle" fill="#4d4d4d" stroke="#4d4d4d" stroke-width="0.4">10</text>
<text transform="translate(346.50,1609.80) scale(0.8620,1.0000)" font-size="31.3" text-anchor="middle" fill="#4d4d4d" stroke="#4d4d4d" stroke-width="0.4">20</text>
<text transform="translate(405.50,1609.80) scale(0.8620,1.0000)" font-size="31.3" text-anchor="middle" fill="#4d4d4d" stroke="#4d4d4d" stroke-width="0.4">100</text>
<path d="M547.9 1574.0V1156.1H883.8" fill="none" stroke="#6e6e6e" stroke-width="1.7"/>
<path d="M547.0 1573.1H882.9V1155.2" fill="none" stroke="#4a4a4a" stroke-width="1.9"/>
<path d="M542.1 1175.2H547.4M542.1 1251.0H547.4M542.1 1326.9H547.4M542.1 1402.7H547.4M542.1 1478.6H547.4M542.1 1554.4H547.4M577.5 1574.0V1579.1M646.3 1574.0V1579.1M715.1 1574.0V1579.1M783.8 1574.0V1579.1M852.5 1574.0V1579.1" stroke="#333" stroke-width="1.9" fill="none"/>
<text transform="translate(537.70,1186.50) scale(0.8620,1.0000)" font-size="31.3" text-anchor="end" fill="#4d4d4d" stroke="#4d4d4d" stroke-width="0.4">1.00</text>
<text transform="translate(537.70,1262.34) scale(0.8620,1.0000)" font-size="31.3" text-anchor="end" fill="#4d4d4d" stroke="#4d4d4d" stroke-width="0.4">0.95</text>
<text transform="translate(537.70,1338.18) scale(0.8620,1.0000)" font-size="31.3" text-anchor="end" fill="#4d4d4d" stroke="#4d4d4d" stroke-width="0.4">0.90</text>
<text transform="translate(537.70,1414.02) scale(0.8620,1.0000)" font-size="31.3" text-anchor="end" fill="#4d4d4d" stroke="#4d4d4d" stroke-width="0.4">0.85</text>
<text transform="translate(537.70,1489.86) scale(0.8620,1.0000)" font-size="31.3" text-anchor="end" fill="#4d4d4d" stroke="#4d4d4d" stroke-width="0.4">0.80</text>
<text transform="translate(537.70,1565.70) scale(0.8620,1.0000)" font-size="31.3" text-anchor="end" fill="#4d4d4d" stroke="#4d4d4d" stroke-width="0.4">0.75</text>
<text transform="translate(577.50,1604.80) scale(0.8620,1.0000)" font-size="31.3" text-anchor="middle" fill="#4d4d4d" stroke="#4d4d4d" stroke-width="0.4">2</text>
<text transform="translate(646.30,1604.80) scale(0.8620,1.0000)" font-size="31.3" text-anchor="middle" fill="#4d4d4d" stroke="#4d4d4d" stroke-width="0.4">5</text>
<text transform="translate(715.10,1604.80) scale(0.8620,1.0000)" font-size="31.3" text-anchor="middle" fill="#4d4d4d" stroke="#4d4d4d" stroke-width="0.4">10</text>
<text transform="translate(783.80,1604.80) scale(0.8620,1.0000)" font-size="31.3" text-anchor="middle" fill="#4d4d4d" stroke="#4d4d4d" stroke-width="0.4">20</text>
<text transform="translate(852.50,1604.80) scale(0.8620,1.0000)" font-size="31.3" text-anchor="middle" fill="#4d4d4d" stroke="#4d4d4d" stroke-width="0.4">100</text>
<path d="M999.4 1579.0V1156.1H1335.5" fill="none" stroke="#6e6e6e" stroke-width="1.7"/>
<path d="M998.5 1578.1H1334.6V1155.2" fill="none" stroke="#4a4a4a" stroke-width="1.9"/>
<path d="M993.6 1175.4H998.9M993.6 1252.2H998.9M993.6 1329.0H998.9M993.6 1405.7H998.9M993.6 1482.5H998.9M993.6 1559.3H998.9M1028.7 1579.0V1584.1M1097.5 1579.0V1584.1M1166.3 1579.0V1584.1M1235.2 1579.0V1584.1M1304.0 1579.0V1584.1" stroke="#333" stroke-width="1.9" fill="none"/>
<text transform="translate(989.20,1186.70) scale(0.8620,1.0000)" font-size="31.3" text-anchor="end" fill="#4d4d4d" stroke="#4d4d4d" stroke-width="0.4">1.00</text>
<text transform="translate(989.20,1263.48) scale(0.8620,1.0000)" font-size="31.3" text-anchor="end" fill="#4d4d4d" stroke="#4d4d4d" stroke-width="0.4">0.95</text>
<text transform="translate(989.20,1340.26) scale(0.8620,1.0000)" font-size="31.3" text-anchor="end" fill="#4d4d4d" stroke="#4d4d4d" stroke-width="0.4">0.90</text>
<text transform="translate(989.20,1417.04) scale(0.8620,1.0000)" font-size="31.3" text-anchor="end" fill="#4d4d4d" stroke="#4d4d4d" stroke-width="0.4">0.85</text>
<text transform="translate(989.20,1493.82) scale(0.8620,1.0000)" font-size="31.3" text-anchor="end" fill="#4d4d4d" stroke="#4d4d4d" stroke-width="0.4">0.80</text>
<text transform="translate(989.20,1570.60) scale(0.8620,1.0000)" font-size="31.3" text-anchor="end" fill="#4d4d4d" stroke="#4d4d4d" stroke-width="0.4">0.75</text>
<text transform="translate(1028.70,1609.80) scale(0.8620,1.0000)" font-size="31.3" text-anchor="middle" fill="#4d4d4d" stroke="#4d4d4d" stroke-width="0.4">2</text>
<text transform="translate(1097.50,1609.80) scale(0.8620,1.0000)" font-size="31.3" text-anchor="middle" fill="#4d4d4d" stroke="#4d4d4d" stroke-width="0.4">5</text>
<text transform="translate(1166.30,1609.80) scale(0.8620,1.0000)" font-size="31.3" text-anchor="middle" fill="#4d4d4d" stroke="#4d4d4d" stroke-width="0.4">10</text>
<text transform="translate(1235.20,1609.80) scale(0.8620,1.0000)" font-size="31.3" text-anchor="middle" fill="#4d4d4d" stroke="#4d4d4d" stroke-width="0.4">20</text>
<text transform="translate(1304.00,1609.80) scale(0.8620,1.0000)" font-size="31.3" text-anchor="middle" fill="#4d4d4d" stroke="#4d4d4d" stroke-width="0.4">100</text>
<text transform="translate(24.50,487.20) rotate(-90) scale(1.0850,1.0000)" font-size="33" text-anchor="start" fill="#000" stroke="#000" stroke-width="0.4">PPFC w/variant specific prior</text>
<text transform="translate(24.70,788.00) rotate(-90) scale(1.0850,1.0000)" font-size="33" text-anchor="middle" fill="#000" stroke="#000" stroke-width="0.4">Empirical probability</text>
<text transform="translate(71.70,788.80) rotate(-90) scale(1.0850,1.0000)" font-size="33" text-anchor="middle" fill="#000" stroke="#000" stroke-width="0.4">of identifying true CV</text>
<text transform="translate(24.70,1370.00) rotate(-90) scale(1.0700,1.0000)" font-size="33" text-anchor="middle" fill="#000" stroke="#000" stroke-width="0.4"><tspan stroke="none">|</tspan>ρ<tspan font-size="23" dy="5" stroke="none">LD</tspan><tspan dy="-5" stroke="none">|</tspan> between wrongly</text>
<text transform="translate(71.70,1366.00) rotate(-90) scale(1.0850,1.0000)" font-size="33" text-anchor="middle" fill="#000" stroke="#000" stroke-width="0.4">identified and true CV</text>
<text transform="translate(715.00,1646.90) scale(0.9470,1.0000)" font-size="34.5" text-anchor="middle" fill="#000" stroke="#000" stroke-width="0.4">Number of Phenotypes</text>
<text transform="translate(1354.80,723.30) scale(0.9780,1.0000)" font-size="16.6" text-anchor="start" fill="#000" stroke="#000" stroke-width="0.15" xml:space="preserve">Proportion of</text>
<text transform="translate(1354.80,749.00) scale(0.9780,1.0000)" font-size="16.6" text-anchor="start" fill="#000" stroke="#000" stroke-width="0.15" xml:space="preserve">phenotypic variance</text>
<text transform="translate(1354.80,774.70) scale(0.9780,1.0000)" font-size="16.6" text-anchor="start" fill="#000" stroke="#000" stroke-width="0.15" xml:space="preserve">explained by the</text>
<text transform="translate(1354.80,800.40) scale(0.9780,1.0000)" font-size="16.6" text-anchor="start" fill="#000" stroke="#000" stroke-width="0.15" xml:space="preserve"> causal variant</text>
<path d="M1357.6 851.7H1382.7" stroke="#009E73" stroke-width="2"/>
<ellipse cx="1370.3" cy="851.7" rx="6.5" ry="6.7" fill="#009E73"/>
<text transform="translate(1390.30,857.80) scale(0.9780,1.0000)" font-size="16.6" text-anchor="start" fill="#000" stroke="#000" stroke-width="0.15">0.005</text>
<path d="M1357.6 886.1H1382.7" stroke="#F0E442" stroke-width="2"/>
<ellipse cx="1370.3" cy="886.1" rx="6.5" ry="6.7" fill="#F0E442"/>
<text transform="translate(1390.30,892.20) scale(0.9780,1.0000)" font-size="16.6" text-anchor="start" fill="#000" stroke="#000" stroke-width="0.15">0.01</text>
<path d="M1357.6 920.5H1382.7" stroke="#0072B2" stroke-width="2"/>
<ellipse cx="1370.3" cy="920.5" rx="6.5" ry="6.7" fill="#0072B2"/>
<text transform="translate(1390.30,926.60) scale(0.9780,1.0000)" font-size="16.6" text-anchor="start" fill="#000" stroke="#000" stroke-width="0.15">0.02</text>
</svg></body></html>
